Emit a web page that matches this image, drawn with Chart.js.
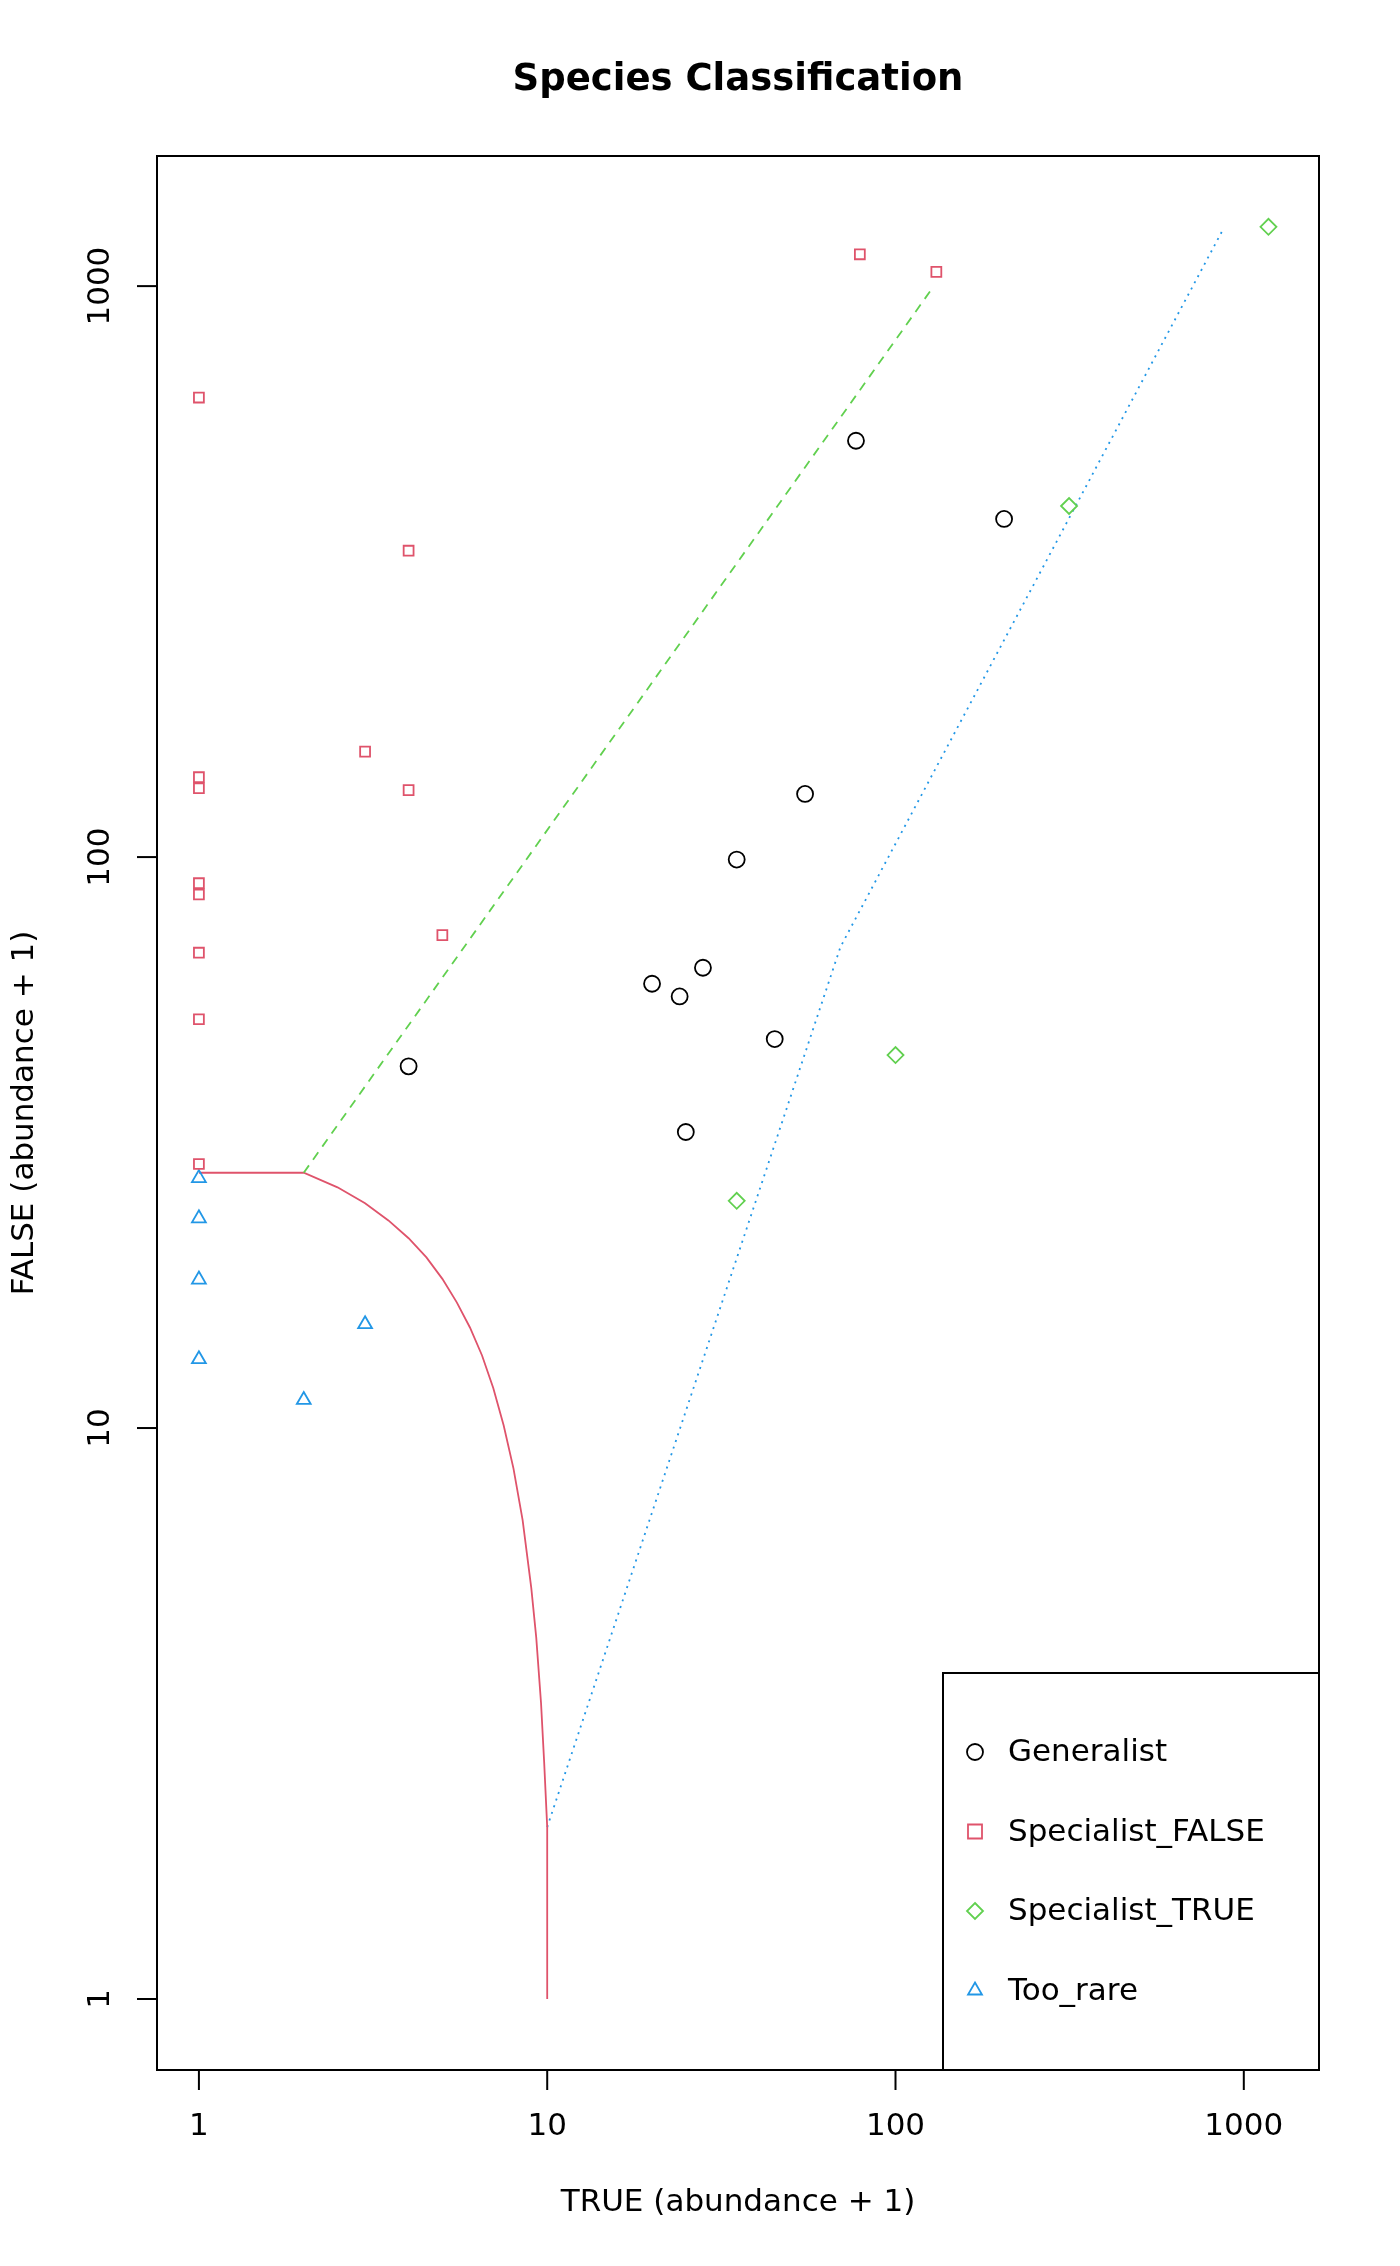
<!DOCTYPE html>
<html><head><meta charset="utf-8">
<script src="https://cdn.jsdelivr.net/npm/chart.js@4"></script>
<style>html,body{margin:0;padding:0;background:#fff}</style>
</head><body>
<canvas id="c" width="1400" height="2266" style="width:1400px;height:2266px"></canvas>
<script>
const generalist = [[4,43],[20,60],[24,57],[28,64],[25,33],[35,99],[45,48],[55,129],[77,536],[205,391]];
const specialistFalse = [[1,638],[1,138],[1,132],[1,90],[1,86],[1,68],[1,52],[1,29],[3,153],[4,344],[4,131],[5,73],[79,1137],[131,1059]];
const specialistTrue = [[1177,1270],[315,412],[100,45],[35,25]];
const tooRare = [[1,27.4],[1,23.3],[1,18.2],[1,13.2],[3,15.2],[2,11.2]];
const greenLine = [[2,28],[127,988]];
const redCurve = [[1,28],[2,28],[2.5,26.4],[3,24.75],[3.5,23.1],[4,21.5],[4.5,19.9],[5,18.25],[5.5,16.6],[6,15],[6.5,13.4],[7,11.75],[7.5,10.1],[8,8.5],[8.5,6.9],[9,5.25],[9.3,4.3],[9.6,3.3],[9.8,2.6],[10,2],[10,1]];
const blueLine = [[10,2],[69.5,69.6],[875,1262]];
const tickValues = [1,10,100,1000];
const tickLabels = ['1','10','100','1000'];
const legendLabels = ['Generalist','Specialist_FALSE','Specialist_TRUE','Too_rare'];
const colors = ['#000000','#DF536B','#61D04F','#2297E6'];
const styles = ['circle','rect','rectRot','triangle'];

const pts = a => a.map(p => ({x:p[0], y:p[1]}));
const FONT = '"DejaVu Sans", sans-serif';
const radii = [8,7,8,8];
function sc(d,i){return {type:'scatter',data:pts(d),pointStyle:styles[i],pointRadius:radii[i],
  borderColor:colors[i],backgroundColor:'rgba(0,0,0,0)',pointBorderWidth:1.8,showLine:false};}
function ln(d,c,dash){return {type:'line',data:pts(d),borderColor:c,borderWidth:1.8,borderDash:dash,
  pointRadius:0,fill:false,tension:0};}

const deco = {id:'deco', afterDraw(ch){
  const c=ch.ctx, a=ch.chartArea, xs=ch.scales.x, ys=ch.scales.y;
  c.save(); c.strokeStyle='#000'; c.lineWidth=2; c.fillStyle='#000';
  c.strokeRect(a.left,a.top,a.right-a.left,a.bottom-a.top);
  c.font='31px '+FONT;
  c.textAlign='center'; c.textBaseline='middle';
  tickValues.forEach((v,i)=>{const x=xs.getPixelForValue(v);
    c.beginPath(); c.moveTo(x,a.bottom); c.lineTo(x,a.bottom+20); c.stroke();
    c.fillText(tickLabels[i],x,2127);});
  tickValues.forEach((v,i)=>{const y=ys.getPixelForValue(v);
    c.beginPath(); c.moveTo(a.left,y); c.lineTo(a.left-20,y); c.stroke();
    c.save(); c.translate(101,y); c.rotate(-Math.PI/2); c.fillText(tickLabels[i],0,0); c.restore();});
  c.fillText('TRUE (abundance + 1)',(a.left+a.right)/2,2203);
  c.save(); c.translate(25,(a.top+a.bottom)/2); c.rotate(-Math.PI/2); c.fillText('FALSE (abundance + 1)',0,0); c.restore();
  c.font='bold 37px '+FONT; c.fillText('Species Classification',(a.left+a.right)/2,80);
  // legend
  const lx=943, ly=1673;
  c.fillStyle='#fff'; c.fillRect(lx,ly,a.right-lx,a.bottom-ly);
  c.strokeRect(lx,ly,a.right-lx,a.bottom-ly);
  c.font='31px '+FONT; c.textAlign='left';
  legendLabels.forEach((t,i)=>{const y=1752+i*79.5, mx=975, r=radii[i];
    c.strokeStyle=colors[i]; c.lineWidth=1.8;
    c.beginPath();
    if(i===0){c.arc(mx,y,r,0,2*Math.PI);}
    else if(i===1){c.rect(mx-r,y-r,2*r,2*r);}
    else if(i===2){c.moveTo(mx,y-r);c.lineTo(mx+r,y);c.lineTo(mx,y+r);c.lineTo(mx-r,y);c.closePath();}
    else {c.moveTo(mx,y-r);c.lineTo(mx+r*0.87,y+r*0.5);c.lineTo(mx-r*0.87,y+r*0.5);c.closePath();}
    c.stroke();
    c.fillStyle='#000'; c.fillText(t,1008,y+1);});
  c.restore();
}};

new Chart(document.getElementById('c'),{
  data:{datasets:[sc(generalist,0),sc(specialistFalse,1),sc(specialistTrue,2),sc(tooRare,3),
    ln(greenLine,'#61D04F',[9,7]),ln(redCurve,'#DF536B',[]),ln(blueLine,'#2297E6',[2,5])]},
  options:{responsive:false,animation:false,devicePixelRatio:1,
    layout:{padding:{left:157,right:81,top:156,bottom:196}},
    plugins:{legend:{display:false},tooltip:{enabled:false},title:{display:false}},
    scales:{x:{type:'logarithmic',min:0.758,max:1644,display:false},
            y:{type:'logarithmic',min:0.751,max:1690,display:false}}},
  plugins:[deco]
});
</script>
</body></html>
